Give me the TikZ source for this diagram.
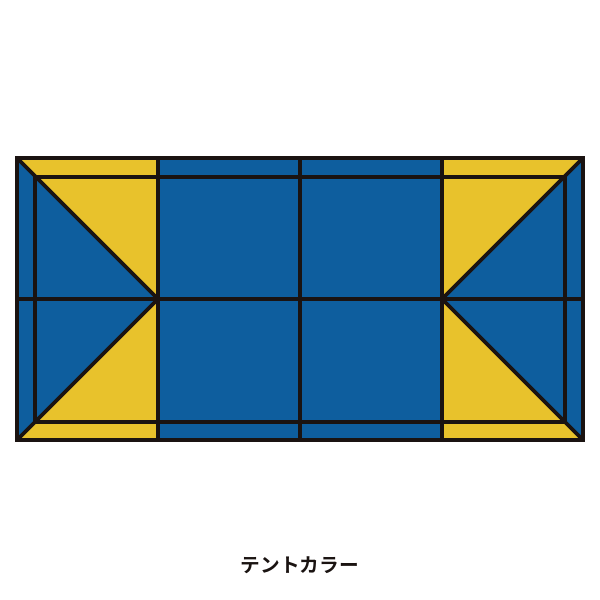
\documentclass[tikz,border=0pt]{standalone}
\usepackage{fontspec}
\newfontfamily\jpfont{Noto Sans CJK JP}[BoldFont={Noto Sans CJK JP Bold}]
\usepackage{tikz}
\usetikzlibrary{positioning}
\usepackage{xcolor}
\definecolor{tentblue}{HTML}{0E5E9E}
\definecolor{tentyellow}{HTML}{E8C22C}
\definecolor{tentline}{HTML}{1A1311}

\begin{document}
\begin{tikzpicture}
[x=0.02cm, y=-0.02cm,
% The panel style is used to fill the blue and yellow parts of the roof
blue panel/.style={fill=tentblue},
yellow panel/.style={fill=tentyellow},
% The seam style is used to draw the black lines
seam/.style={draw=tentline, line width=2.1pt, line join=miter},
caption/.style={font=\jpfont\bfseries\fontsize{11.2}{13}\selectfont, text=tentline}
]
\useasboundingbox (0,0) rectangle (600,600);
% Draw panels
\fill[blue panel] (17,158) rectangle (583,440);
\fill[yellow panel] (17,158) -- (158,158) -- (158,299) -- cycle;
\fill[yellow panel] (17,440) -- (158,440) -- (158,299) -- cycle;
\fill[yellow panel] (583,158) -- (442,158) -- (442,299) -- cycle;
\fill[yellow panel] (583,440) -- (442,440) -- (442,299) -- cycle;
% Draw seams
\draw[seam] (35,177) rectangle (565,422);
\draw[seam] (17,299) -- (583,299);
\draw[seam] (158,158) -- (158,440);
\draw[seam] (300,158) -- (300,440);
\draw[seam] (442,158) -- (442,440);
\draw[seam] (17,158) -- (158,299) -- (17,440);
\draw[seam] (583,158) -- (442,299) -- (583,440);
\draw[seam] (17,158) rectangle (583,440);
% Draw caption
\node[caption] (colour) at (300,565) {テントカラー};
\end{tikzpicture}
\end{document}
